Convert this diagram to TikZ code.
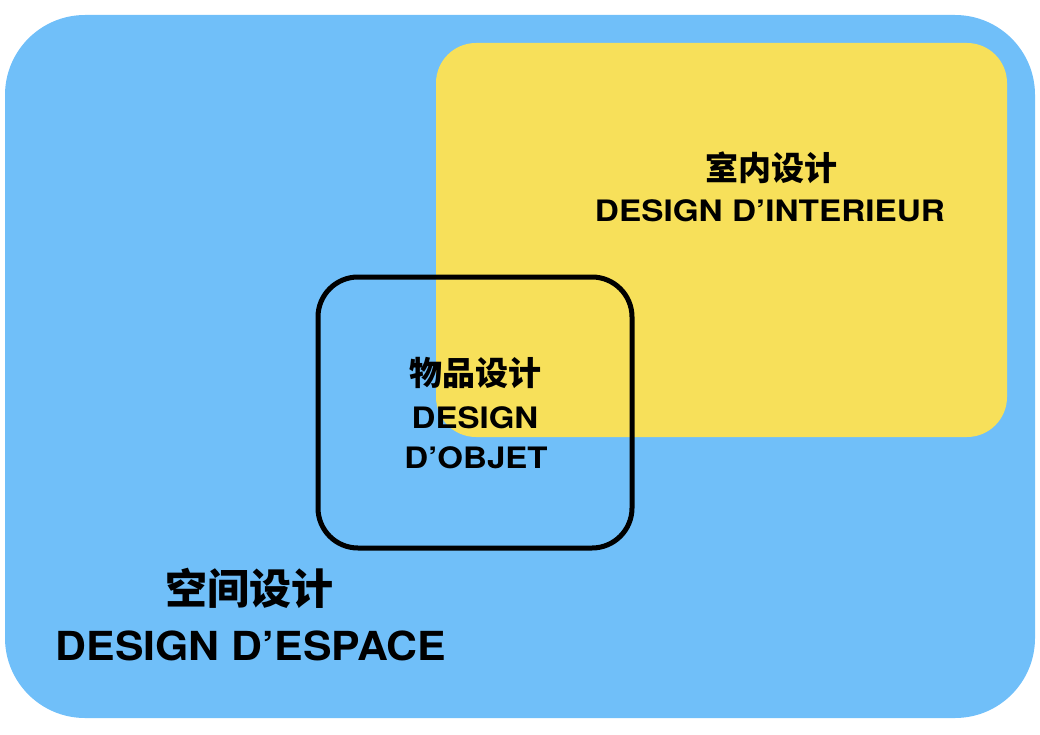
\documentclass[tikz,border=0pt]{standalone}
\usepackage{fontspec}
\setmainfont{TeX Gyre Heros}
\newfontfamily\cjk{Noto Sans CJK SC}
\definecolor{bgblue}{RGB}{112,191,249}
\definecolor{ylw}{RGB}{247,224,90}
\begin{document}
\begin{tikzpicture}[x=1pt,y=-1pt,
  lat/.style 2 args={anchor=base,inner sep=0pt,font=\bfseries\fontsize{#1}{#1}\selectfont\addfontfeatures{FakeStretch=#2}},
  zh/.style={anchor=base,inner sep=0pt,font=\cjk\bfseries\fontsize{#1}{#1}\selectfont}]
\useasboundingbox (0,0) rectangle (1040,735);
\fill[bgblue,rounded corners=80pt] (5,15) rectangle (1035,718);
\fill[ylw,rounded corners=40pt] (436,43) rectangle (1007,437);
\draw[line width=5pt,rounded corners=40pt] (318,277) rectangle (632,548);
% interieur
\node[zh=33] (zhint) at (771,180.5) {室内设计};
\node[lat={29.5}{1.13}] (latint) at (770,222) {DESIGN D’INTERIEUR};
% objet
\node[zh=33] (zhobj) at (475,385.5) {物品设计};
\node[lat={29.5}{1.12}] (latobj1) at (475,428) {DESIGN};
\node[lat={29.5}{1.12}] (latobj2) at (476,468) {D’OBJET};
% espace
\node[zh=42] (zhesp) at (249,604) {空间设计};
\node[lat={40}{1.07}] (latesp) at (251,660) {DESIGN D’ESPACE};
\end{tikzpicture}
\end{document}
